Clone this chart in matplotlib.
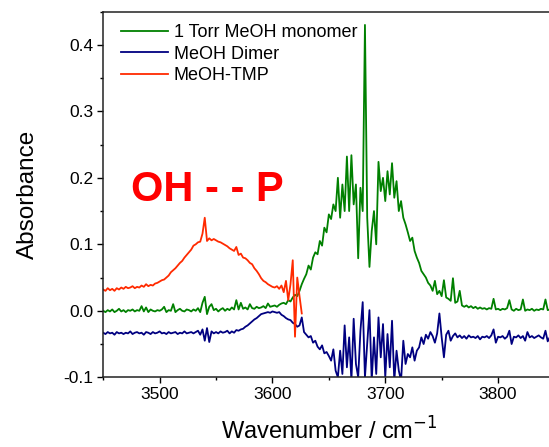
#MeOH monomer / dimer / MeOH-TMP IR spectra
import numpy as np
import matplotlib
matplotlib.use('Agg')
import matplotlib.pyplot as plt
from matplotlib.ticker import MultipleLocator

plt.rcParams['font.family'] = ['Liberation Sans', 'DejaVu Sans']
plt.rcParams['axes.unicode_minus'] = False

# wavenumber grids (cm-1)
wn = np.arange(3450, 3851, 2)
wn_tmp = np.arange(3450, 3627, 2)

# 1 Torr MeOH monomer
monomer = [
    0.000, -0.002, 0.001, -0.001, 0.002, -0.002, 0.000, 0.003, -0.001, 0.001,
    -0.002, 0.001, 0.000, 0.002, -0.001, 0.001, 0.000, 0.007, -0.001, 0.005,
    -0.002, 0.002, 0.000, -0.001, 0.001, 0.000, 0.002, 0.006, -0.002, 0.001,
    0.000, 0.010, -0.002, 0.001, 0.003, 0.000, -0.001, 0.002, 0.001, -0.001,
    0.002, 0.000, 0.004, -0.002, 0.012, 0.021, -0.005, 0.006, 0.010, 0.001,
    0.003, -0.001, 0.002, 0.004, 0.000, 0.003, 0.001, 0.005, 0.002, 0.016,
    0.002, 0.012, 0.003, 0.005, 0.002, 0.010, 0.004, 0.003, 0.006, 0.004,
    0.005, 0.007, 0.004, 0.011, 0.006, 0.007, 0.008, 0.006, 0.009, 0.011,
    0.012, 0.010, 0.016, 0.014, 0.020, 0.024, 0.022, 0.030, 0.040, 0.048,
    0.055, 0.068, 0.062, 0.080, 0.088, 0.085, 0.105, 0.098, 0.125, 0.118,
    0.145, 0.138, 0.160, 0.150, 0.200, 0.140, 0.190, 0.150, 0.232, 0.150,
    0.234, 0.160, 0.190, 0.079, 0.185, 0.150, 0.430, 0.140, 0.066, 0.120,
    0.150, 0.100, 0.224, 0.180, 0.200, 0.165, 0.210, 0.175, 0.222, 0.170,
    0.195, 0.150, 0.165, 0.140, 0.130, 0.118, 0.105, 0.110, 0.090, 0.080,
    0.072, 0.060, 0.055, 0.050, 0.042, 0.038, 0.030, 0.045, 0.025, 0.030,
    0.022, 0.046, 0.020, 0.018, 0.015, 0.049, 0.012, 0.014, 0.030, 0.008,
    0.006, 0.008, 0.005, 0.007, 0.004, 0.006, 0.003, 0.005, 0.003, 0.004,
    0.002, 0.004, 0.003, 0.018, 0.002, 0.003, 0.001, 0.003, 0.002, 0.004,
    0.016, 0.002, 0.000, 0.003, 0.001, 0.002, 0.017, 0.000, 0.002, 0.001,
    0.003, 0.000, 0.002, 0.001, 0.003, 0.002, 0.017, 0.001, 0.002, 0.003,
    0.002,
]

# MeOH dimer
dimer = [
    -0.033, -0.035, -0.032, -0.034, -0.033, -0.036, -0.032, -0.034, -0.033, -0.035,
    -0.033, -0.034, -0.031, -0.035, -0.033, -0.032, -0.034, -0.033, -0.036, -0.032,
    -0.033, -0.035, -0.032, -0.034, -0.033, -0.031, -0.034, -0.033, -0.035, -0.032,
    -0.034, -0.033, -0.032, -0.035, -0.033, -0.034, -0.031, -0.034, -0.033, -0.032,
    -0.034, -0.032, -0.030, -0.036, -0.028, -0.045, -0.026, -0.047, -0.031, -0.034,
    -0.032, -0.034, -0.031, -0.033, -0.032, -0.030, -0.034, -0.031, -0.033, -0.029,
    -0.030, -0.028, -0.027, -0.024, -0.022, -0.019, -0.016, -0.013, -0.011, -0.008,
    -0.005, -0.004, -0.003, -0.002, -0.003, -0.001, -0.002, -0.003, -0.002, -0.006,
    -0.008, -0.011, -0.013, -0.014, -0.018, -0.020, -0.024, -0.022, -0.010, -0.032,
    -0.036, -0.040, -0.038, -0.048, -0.045, -0.054, -0.058, -0.052, -0.064, -0.062,
    -0.068, -0.075, -0.058, -0.090, -0.100, -0.060, -0.095, -0.022, -0.085, -0.040,
    -0.105, -0.012, -0.080, -0.100, -0.030, 0.013, -0.100, -0.050, 0.001, -0.105,
    -0.040, -0.095, -0.010, -0.070, -0.020, -0.100, -0.035, -0.085, -0.015, -0.105,
    -0.060, -0.090, -0.105, -0.045, -0.080, -0.065, -0.070, -0.055, -0.075, -0.060,
    -0.055, -0.040, -0.050, -0.036, -0.042, -0.032, -0.038, -0.048, -0.034, -0.004,
    -0.040, -0.070, -0.036, -0.030, -0.045, -0.038, -0.034, -0.040, -0.037, -0.041,
    -0.038, -0.042, -0.037, -0.040, -0.039, -0.041, -0.038, -0.043, -0.039, -0.040,
    -0.038, -0.041, -0.037, -0.028, -0.048, -0.039, -0.040, -0.038, -0.042, -0.039,
    -0.030, -0.050, -0.039, -0.040, -0.037, -0.041, -0.038, -0.045, -0.032, -0.040,
    -0.038, -0.041, -0.039, -0.037, -0.040, -0.042, -0.030, -0.046, -0.039, -0.040,
    -0.041,
]

# MeOH-TMP complex
tmp = [
    0.032, 0.030, 0.034, 0.031, 0.033, 0.030, 0.034, 0.032, 0.035, 0.033,
    0.036, 0.034, 0.035, 0.037, 0.034, 0.036, 0.035, 0.038, 0.036, 0.040,
    0.037, 0.039, 0.038, 0.041, 0.042, 0.044, 0.046, 0.047, 0.050, 0.053,
    0.058, 0.061, 0.064, 0.068, 0.072, 0.075, 0.080, 0.084, 0.088, 0.092,
    0.098, 0.100, 0.103, 0.104, 0.116, 0.140, 0.105, 0.109, 0.106, 0.108,
    0.106, 0.104, 0.103, 0.101, 0.099, 0.097, 0.094, 0.092, 0.090, 0.096,
    0.084, 0.086, 0.080, 0.079, 0.076, 0.072, 0.070, 0.064, 0.060, 0.055,
    0.049, 0.045, 0.043, 0.040, 0.038, 0.036, 0.035, 0.037, 0.033, 0.038,
    0.028, 0.045, 0.016, 0.040, 0.076, -0.039, 0.050, 0.022, -0.004,
]

fig = plt.figure(figsize=(5.49, 4.47), dpi=100)
ax = fig.add_axes([0.188, 0.156, 0.822, 0.818])

ax.plot(wn, monomer, color='#008000', lw=1.3, label='1 Torr MeOH monomer')
ax.plot(wn, dimer, color='#000080', lw=1.3, label='MeOH Dimer')
ax.plot(wn_tmp, tmp, color='#ff2a00', lw=1.3, label='MeOH-TMP')

ax.text(3542, 0.182, 'OH - - P', color='red', fontsize=30, fontweight='bold',
        ha='center', va='center')

ax.set_xlim(3450, 3850)
ax.set_ylim(-0.1, 0.45)
ax.xaxis.set_major_locator(MultipleLocator(100))
ax.xaxis.set_minor_locator(MultipleLocator(50))
ax.yaxis.set_major_locator(MultipleLocator(0.1))
ax.yaxis.set_minor_locator(MultipleLocator(0.05))
ax.yaxis.set_major_formatter(matplotlib.ticker.FormatStrFormatter('%.1f'))
ax.tick_params(which='major', direction='out', length=4, width=1.0,
               labelsize=12.5, pad=3, top=False, right=False)
ax.tick_params(which='minor', direction='out', length=2.5, width=1.0,
               top=False, right=False)
for s in ax.spines.values():
    s.set_linewidth(1.1)
    s.set_color('#222222')

ax.set_xlabel('Wavenumber / cm$^{-1}$', fontsize=17, labelpad=11)
ax.set_ylabel('Absorbance', fontsize=17.5, labelpad=18)

ax.legend(loc='upper left', bbox_to_anchor=(0.012, 1.0), frameon=False,
          fontsize=13, handlelength=2.6, handletextpad=0.3,
          labelspacing=0.25, borderaxespad=0.3)

fig.savefig('out.png', dpi=100)
